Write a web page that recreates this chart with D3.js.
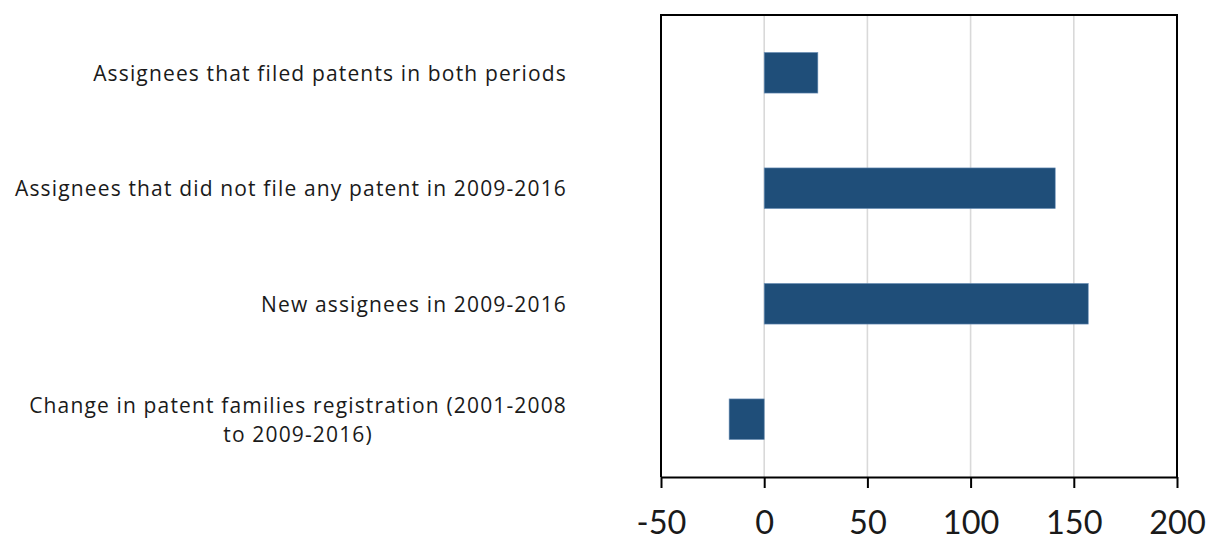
<!DOCTYPE html>
<html>
<head>
<meta charset="utf-8">
<script src="https://cdn.jsdelivr.net/npm/d3@7"></script>
<style>
  html, body { margin: 0; padding: 0; background: #fff; }
  svg { display: block; }
  text { fill: #1a1a1a; }
</style>
</head>
<body>
<svg id="chart" width="1211" height="540"></svg>
<script>
// Category labels (top to bottom) and their values
const categories = [
  ["Assignees that filed patents in both periods"],
  ["Assignees that did not file any patent in 2009-2016"],
  ["New assignees in 2009-2016"],
  ["Change in patent families registration (2001-2008", "to 2009-2016)"]
];
const values = [26, 141, 157, -17];
const tickValues = [-50, 0, 50, 100, 150, 200];

const svg = d3.select("#chart");
const plot = { left: 661, top: 15, right: 1177, bottom: 477 };

const x = d3.scaleLinear().domain([-50, 200]).range([plot.left, plot.right]);
const y = d3.scaleBand()
  .domain(d3.range(categories.length))
  .range([plot.top, plot.bottom])
  .paddingInner(0.648)
  .paddingOuter(0.324);

// vertical gridlines inside the frame
svg.append("g")
  .selectAll("line")
  .data(tickValues.filter(v => v > -50 && v < 200))
  .join("line")
  .attr("x1", d => x(d)).attr("x2", d => x(d))
  .attr("y1", plot.top).attr("y2", plot.bottom)
  .attr("stroke", "#d9d9d9")
  .attr("stroke-width", 1.6);

// bars
svg.append("g")
  .selectAll("rect")
  .data(values)
  .join("rect")
  .attr("x", d => x(Math.min(0, d)))
  .attr("width", d => Math.abs(x(d) - x(0)))
  .attr("y", (d, i) => y(i))
  .attr("height", y.bandwidth())
  .attr("fill", "#1f4e79")
  .attr("stroke", "#6f93ba")
  .attr("stroke-width", 0.6);

// frame: left, top, right edges
svg.append("path")
  .attr("d", `M${plot.left},${plot.bottom}V${plot.top}H${plot.right}V${plot.bottom}`)
  .attr("fill", "none")
  .attr("stroke", "#000")
  .attr("stroke-width", 2);

// bottom axis
const xAxis = d3.axisBottom(x)
  .tickValues(tickValues)
  .tickFormat(d => String(d))
  .tickSizeInner(11)
  .tickSizeOuter(0)
  .tickPadding(23);

const gx = svg.append("g")
  .attr("transform", `translate(0,${plot.bottom})`)
  .call(xAxis);
gx.select(".domain").attr("stroke", "#000").attr("stroke-width", 2);
gx.selectAll(".tick line").attr("stroke", "#000").attr("stroke-width", 2);
gx.selectAll(".tick text")
  .attr("font-family", "Lato, 'Open Sans', sans-serif")
  .attr("font-size", 32.5)
  .attr("fill", "#1a1a1a");

// category labels, right-aligned block, lines centred within the block
const labelRight = 567;
const lineHeight = 29;
const labelFont = "'Open Sans', sans-serif";
const labelSize = 21;
const labelSpacing = 1.15;
const labelG = svg.append("g");
categories.forEach((lines, i) => {
  const cy = y(i) + y.bandwidth() / 2;
  const t = labelG.append("text")
    .attr("font-family", labelFont)
    .attr("font-size", labelSize)
    .attr("letter-spacing", labelSpacing)
    .attr("dominant-baseline", "central");
  lines.forEach((ln, j) => {
    t.append("tspan")
      .attr("y", cy + (j - (lines.length - 1) / 2) * lineHeight)
      .text(ln);
  });
  // measure widest line, then centre each line within that block
  const widths = t.selectAll("tspan").nodes().map(n => n.getComputedTextLength());
  const w = d3.max(widths);
  const centre = labelRight - w / 2;
  t.attr("text-anchor", "middle");
  t.selectAll("tspan").attr("x", centre);
});
</script>
</body>
</html>
